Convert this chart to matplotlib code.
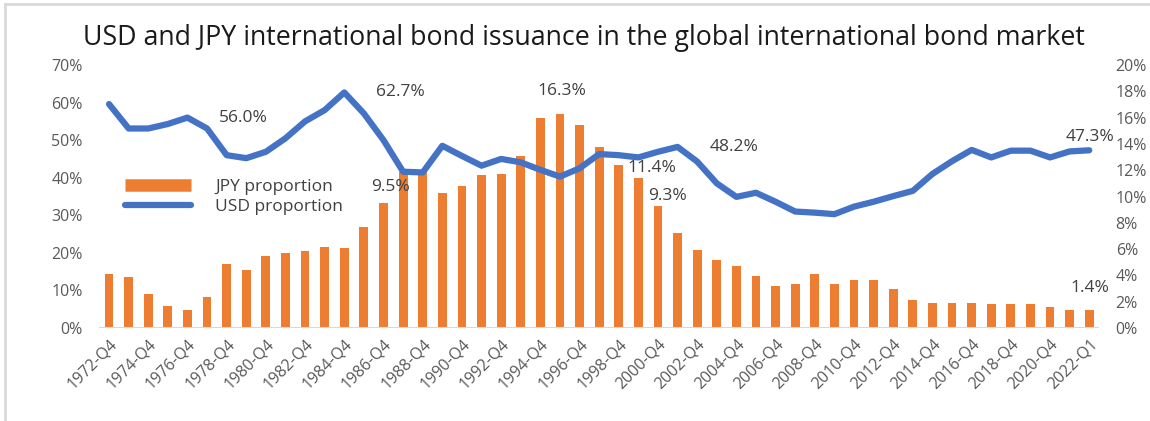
import matplotlib.pyplot as plt
from matplotlib.lines import Line2D
from matplotlib.ticker import PercentFormatter
import numpy as np

plt.rcParams['font.family'] = ['Open Sans', 'DejaVu Sans']

### Data
years = list(range(1972, 2022))
categories = [f'{y}-Q4' for y in years] + ['2022-Q1']

# JPY share of international bond issuance (right axis, %)
jpy_share = [4.1, 3.86, 2.56, 1.70, 1.37, 2.33, 4.84, 4.41, 5.50, 5.73,
             5.83, 6.16, 6.06, 7.68, 9.5, 11.9, 11.9, 10.3, 10.8, 11.6,
             11.7, 13.1, 16.0, 16.3, 15.4, 13.8, 12.4, 11.4, 9.3, 7.25,
             5.93, 5.17, 4.74, 3.98, 3.22, 3.32, 4.08, 3.32, 3.65, 3.65,
             2.99, 2.13, 1.90, 1.90, 1.90, 1.80, 1.80, 1.80, 1.57, 1.37,
             1.4]

# USD share of international bond issuance (left axis, %)
usd_share = [59.6, 53.1, 53.1, 54.3, 56.0, 53.1, 46.0, 45.2, 46.9, 50.5,
             55.0, 58.0, 62.7, 57.1, 50.0, 41.6, 41.4, 48.5, 45.8, 43.2,
             45.0, 44.1, 42.1, 40.3, 42.5, 46.3, 46.0, 45.4, 46.9, 48.2,
             44.3, 38.5, 34.9, 36.0, 33.6, 31.0, 30.7, 30.3, 32.3, 33.6,
             35.1, 36.5, 41.0, 44.4, 47.4, 45.4, 47.2, 47.2, 45.4, 47.0,
             47.3]

# data labels shown on the chart: (category index, text, offset in pixels)
labels_usd = [(4, '56.0%', (56, 0)), (12, '62.7%', (56, 0)),
              (29, '48.2%', (56, 0)), (50, '47.3%', (1, 13))]
labels_jpy = [(14, '9.5%', (7, 16)), (23, '16.3%', (2, 23)),
              (27, '11.4%', (14, 10)), (28, '9.3%', (10, 10)),
              (50, '1.4%', (1, 22))]

##############################################
###  Plot
##############################################
orange = '#ED7D31'
blue = '#4472C4'
grey = '#595959'

fig = plt.figure(figsize=(11.5, 4.21), dpi=100)
ax = fig.add_axes([0.0863, 0.2209, 0.8694, 0.6247])
ax2 = ax.twinx()

x = np.arange(len(categories))

# bars on the secondary axis, line on the primary; line drawn on top
ax2.bar(x, jpy_share, width=0.45, color=orange, zorder=1)
ax.set_zorder(ax2.get_zorder() + 1)
ax.patch.set_visible(False)
ax.plot(x, usd_share, color=blue, lw=4.5, solid_joinstyle='round',
        solid_capstyle='round', zorder=3)

ax.set_xlim(-0.5, len(categories) - 0.5)
ax.set_ylim(0, 70)
ax2.set_ylim(0, 20)
ax.set_yticks(np.arange(0, 71, 10))
ax2.set_yticks(np.arange(0, 21, 2))
ax.yaxis.set_major_formatter(PercentFormatter(decimals=0))
ax2.yaxis.set_major_formatter(PercentFormatter(decimals=0))

ax.set_xticks(x[::2])
ax.set_xticklabels(categories[::2], rotation=45, ha='right',
                   rotation_mode='anchor')

for a in (ax, ax2):
    for s in a.spines.values():
        s.set_visible(False)
    a.tick_params(length=0, colors=grey, labelsize=11.5)
ax.tick_params(axis='x', pad=6)
ax.tick_params(axis='y', pad=12)
ax2.tick_params(axis='y', pad=12)
ax.axhline(0, color='#d9d9d9', lw=1.5, zorder=0)

# data labels
for i, t, off in labels_usd:
    ax.annotate(t, (x[i], usd_share[i]), xytext=off, textcoords='offset pixels',
                ha='center', va='center', fontsize=12.5, color='#404040')
for i, t, off in labels_jpy:
    ax2.annotate(t, (x[i], jpy_share[i]), xytext=off, textcoords='offset pixels',
                 ha='center', va='center', fontsize=12.5, color='#404040')

handles = [Line2D([], [], color=orange, lw=9, solid_capstyle='butt'),
           Line2D([], [], color=blue, lw=4.5, solid_capstyle='round')]
ax.legend(handles, ['JPY proportion', 'USD proportion'], loc='upper left',
          bbox_to_anchor=(0.01, 0.625), frameon=False, fontsize=12.5,
          handlelength=3.8, handletextpad=1.4, labelspacing=0.2,
          labelcolor='#404040')

fig.text(0.508, 1 - 38 / 421,
         'USD and JPY international bond issuance in the global international bond market',
         ha='center', va='center', fontsize=19.3, color='#1a1a1a')

# light frame edges as in the screenshot
fig.add_artist(Line2D([5 / 1150, 5 / 1150], [0, 1 - 4 / 421], color='#d9d9d9', lw=2))
fig.add_artist(Line2D([5 / 1150, 1], [1 - 4 / 421, 1 - 4 / 421], color='#d9d9d9', lw=2))

fig.savefig('out.png', dpi=100)
